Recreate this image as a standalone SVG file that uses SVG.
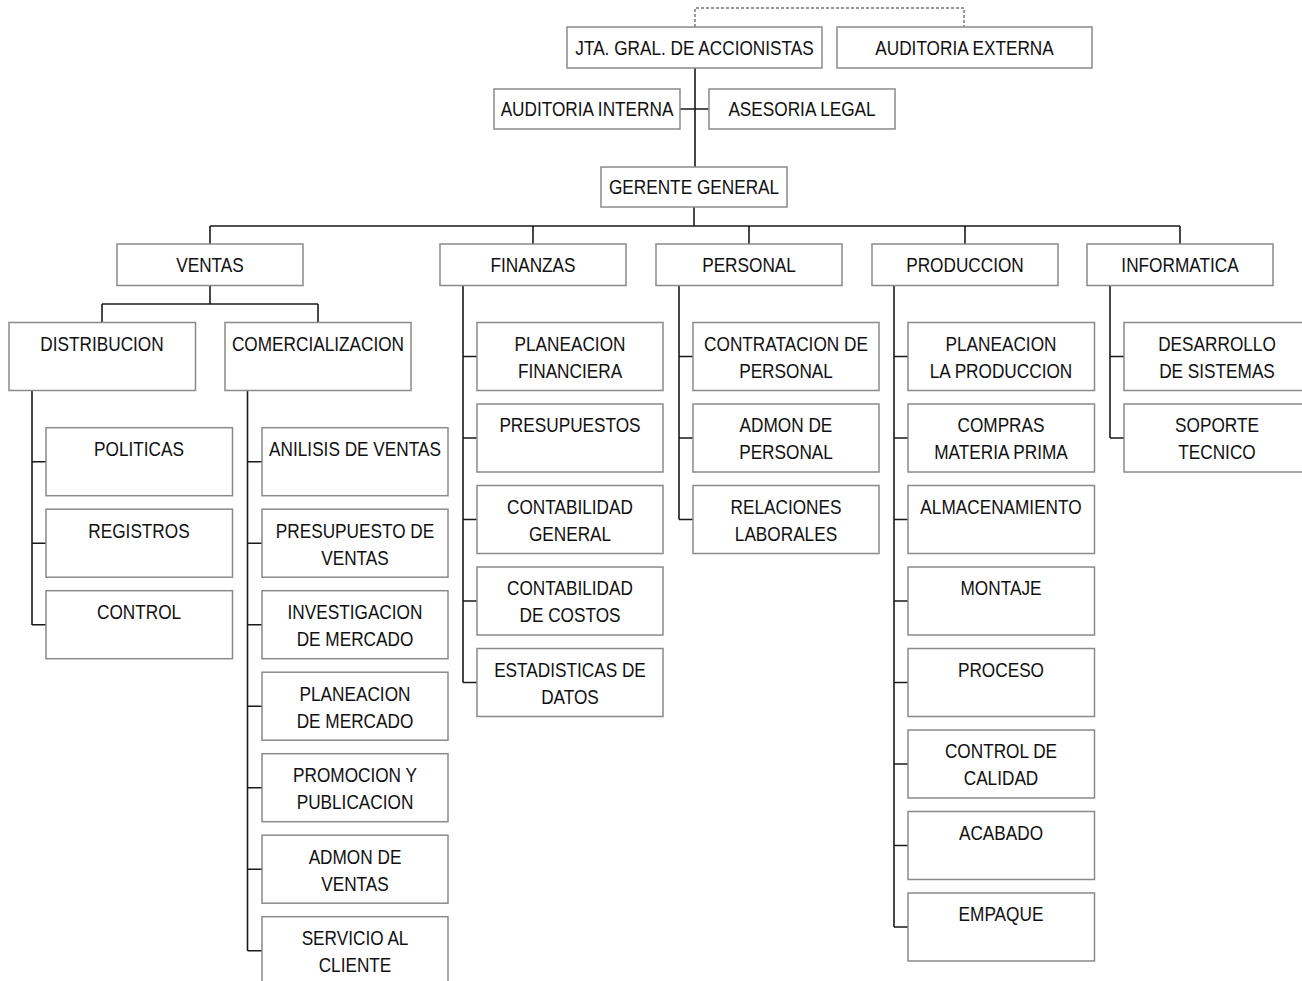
<svg xmlns="http://www.w3.org/2000/svg" width="1302" height="981" viewBox="0 0 1302 981">
<style>
.box{fill:#fff;stroke:#8a8a8a;stroke-width:1.5}
.t{font-family:"Liberation Sans Narrow","Liberation Sans",Arial,sans-serif;font-size:21px;text-anchor:middle;fill:#111;transform-box:fill-box;transform-origin:center;transform:scaleX(0.82)}
.c{stroke:#1a1a1a;stroke-width:1.6;fill:none}
.d{stroke:#333;stroke-width:1;stroke-dasharray:3 2;fill:none}
</style>
<rect width="1302" height="981" fill="#fff"/>
<g id="connectors">
<path class="d" d="M695,27 V8 H964 V27"/>
<path class="c" d="M695,68 V167 M680,109 H709 M694,207 V226 M210,226 H1180 M210,226 V244 M533,226 V244 M749,226 V244 M965,226 V244 M1180,226 V244"/>
<path class="c" d="M210,285.5 V304 M102,304 H318 M102,304 V322.5 M318,304 V322.5"/>
<path class="c" d="M32,391 V625 M32,461.7 H46 M32,543.2 H46 M32,624.7 H46"/>
<path class="c" d="M247.5,391 V950.7 M247.5,461.7 H262 M247.5,543.2 H262 M247.5,624.7 H262 M247.5,706.2 H262 M247.5,787.7 H262 M247.5,869.2 H262 M247.5,950.7 H262"/>
<path class="c" d="M463,285.5 V682.5 M463,356.5 H477 M463,438 H477 M463,519.5 H477 M463,601 H477 M463,682.5 H477"/>
<path class="c" d="M679,285.5 V519.5 M679,356.5 H693 M679,438 H693 M679,519.5 H693"/>
<path class="c" d="M894,285.5 V927 M894,356.5 H908 M894,438 H908 M894,519.5 H908 M894,601 H908 M894,682.5 H908 M894,764 H908 M894,845.5 H908 M894,927 H908"/>
<path class="c" d="M1110,285.5 V438 M1110,356.5 H1124 M1110,438 H1124"/>
</g>
<g id="jta"><rect class="box" x="567" y="27" width="255" height="41"/><text class="t" x="694.5" y="55">JTA. GRAL. DE ACCIONISTAS</text></g>
<g id="auditoria-externa"><rect class="box" x="837" y="27" width="255" height="41"/><text class="t" x="964.5" y="55">AUDITORIA EXTERNA</text></g>
<g id="auditoria-interna"><rect class="box" x="494" y="89" width="186" height="40"/><text class="t" x="587" y="116">AUDITORIA INTERNA</text></g>
<g id="asesoria-legal"><rect class="box" x="709" y="89" width="186" height="40"/><text class="t" x="802" y="116">ASESORIA LEGAL</text></g>
<g id="gerente"><rect class="box" x="601" y="167" width="186" height="40"/><text class="t" x="694" y="194">GERENTE GENERAL</text></g>
<g id="ventas"><rect class="box" x="117" y="244" width="186" height="41.5"/><text class="t" x="210" y="272">VENTAS</text></g>
<g id="finanzas"><rect class="box" x="440" y="244" width="186" height="41.5"/><text class="t" x="533" y="272">FINANZAS</text></g>
<g id="personal"><rect class="box" x="656" y="244" width="186" height="41.5"/><text class="t" x="749" y="272">PERSONAL</text></g>
<g id="produccion"><rect class="box" x="872" y="244" width="186" height="41.5"/><text class="t" x="965" y="272">PRODUCCION</text></g>
<g id="informatica"><rect class="box" x="1087" y="244" width="186" height="41.5"/><text class="t" x="1180" y="272">INFORMATICA</text></g>
<g id="distribucion"><rect class="box" x="9" y="322.5" width="186.5" height="68"/><text class="t" x="102" y="351">DISTRIBUCION</text></g>
<g id="comercializacion"><rect class="box" x="225" y="322.5" width="186" height="68"/><text class="t" x="318" y="351">COMERCIALIZACION</text></g>
<g id="politicas"><rect class="box" x="46" y="427.7" width="186.5" height="68"/><text class="t" x="139" y="456.5">POLITICAS</text></g>
<g id="registros"><rect class="box" x="46" y="509.2" width="186.5" height="68"/><text class="t" x="139" y="538">REGISTROS</text></g>
<g id="control"><rect class="box" x="46" y="590.7" width="186.5" height="68"/><text class="t" x="139" y="619.5">CONTROL</text></g>
<g id="analisis-ventas"><rect class="box" x="262" y="427.7" width="186" height="68"/><text class="t" x="355" y="456.5">ANILISIS DE VENTAS</text></g>
<g id="presupuesto-ventas"><rect class="box" x="262" y="509.2" width="186" height="68"/><text class="t" x="355" y="538">PRESUPUESTO DE</text><text class="t" x="355" y="565">VENTAS</text></g>
<g id="investigacion-mercado"><rect class="box" x="262" y="590.7" width="186" height="68"/><text class="t" x="355" y="619.5">INVESTIGACION</text><text class="t" x="355" y="646.5">DE MERCADO</text></g>
<g id="planeacion-mercado"><rect class="box" x="262" y="672.2" width="186" height="68"/><text class="t" x="355" y="701">PLANEACION</text><text class="t" x="355" y="728">DE MERCADO</text></g>
<g id="promocion"><rect class="box" x="262" y="753.7" width="186" height="68"/><text class="t" x="355" y="782.5">PROMOCION Y</text><text class="t" x="355" y="809.5">PUBLICACION</text></g>
<g id="admon-ventas"><rect class="box" x="262" y="835.2" width="186" height="68"/><text class="t" x="355" y="864">ADMON DE</text><text class="t" x="355" y="891">VENTAS</text></g>
<g id="servicio-cliente"><rect class="box" x="262" y="916.7" width="186" height="68"/><text class="t" x="355" y="945.5">SERVICIO AL</text><text class="t" x="355" y="972.5">CLIENTE</text></g>
<g id="planeacion-financiera"><rect class="box" x="477" y="322.5" width="186" height="68"/><text class="t" x="570" y="351">PLANEACION</text><text class="t" x="570" y="378">FINANCIERA</text></g>
<g id="presupuestos"><rect class="box" x="477" y="404" width="186" height="68"/><text class="t" x="570" y="432.5">PRESUPUESTOS</text></g>
<g id="contabilidad-general"><rect class="box" x="477" y="485.5" width="186" height="68"/><text class="t" x="570" y="514">CONTABILIDAD</text><text class="t" x="570" y="541">GENERAL</text></g>
<g id="contabilidad-costos"><rect class="box" x="477" y="567" width="186" height="68"/><text class="t" x="570" y="595.5">CONTABILIDAD</text><text class="t" x="570" y="622.5">DE COSTOS</text></g>
<g id="estadisticas"><rect class="box" x="477" y="648.5" width="186" height="68"/><text class="t" x="570" y="677">ESTADISTICAS DE</text><text class="t" x="570" y="704">DATOS</text></g>
<g id="contratacion"><rect class="box" x="693" y="322.5" width="186" height="68"/><text class="t" x="786" y="351">CONTRATACION DE</text><text class="t" x="786" y="378">PERSONAL</text></g>
<g id="admon-personal"><rect class="box" x="693" y="404" width="186" height="68"/><text class="t" x="786" y="432.5">ADMON DE</text><text class="t" x="786" y="459.5">PERSONAL</text></g>
<g id="relaciones"><rect class="box" x="693" y="485.5" width="186" height="68"/><text class="t" x="786" y="514">RELACIONES</text><text class="t" x="786" y="541">LABORALES</text></g>
<g id="planeacion-produccion"><rect class="box" x="908" y="322.5" width="186.5" height="68"/><text class="t" x="1001" y="351">PLANEACION</text><text class="t" x="1001" y="378">LA PRODUCCION</text></g>
<g id="compras"><rect class="box" x="908" y="404" width="186.5" height="68"/><text class="t" x="1001" y="432.5">COMPRAS</text><text class="t" x="1001" y="459.5">MATERIA PRIMA</text></g>
<g id="almacenamiento"><rect class="box" x="908" y="485.5" width="186.5" height="68"/><text class="t" x="1001" y="514">ALMACENAMIENTO</text></g>
<g id="montaje"><rect class="box" x="908" y="567" width="186.5" height="68"/><text class="t" x="1001" y="595.5">MONTAJE</text></g>
<g id="proceso"><rect class="box" x="908" y="648.5" width="186.5" height="68"/><text class="t" x="1001" y="677">PROCESO</text></g>
<g id="control-calidad"><rect class="box" x="908" y="730" width="186.5" height="68"/><text class="t" x="1001" y="758.5">CONTROL DE</text><text class="t" x="1001" y="785.5">CALIDAD</text></g>
<g id="acabado"><rect class="box" x="908" y="811.5" width="186.5" height="68"/><text class="t" x="1001" y="840">ACABADO</text></g>
<g id="empaque"><rect class="box" x="908" y="893" width="186.5" height="68"/><text class="t" x="1001" y="921.5">EMPAQUE</text></g>
<g id="desarrollo"><rect class="box" x="1124" y="322.5" width="186" height="68"/><text class="t" x="1217" y="351">DESARROLLO</text><text class="t" x="1217" y="378">DE SISTEMAS</text></g>
<g id="soporte"><rect class="box" x="1124" y="404" width="186" height="68"/><text class="t" x="1217" y="432.5">SOPORTE</text><text class="t" x="1217" y="459.5">TECNICO</text></g>
</svg>
